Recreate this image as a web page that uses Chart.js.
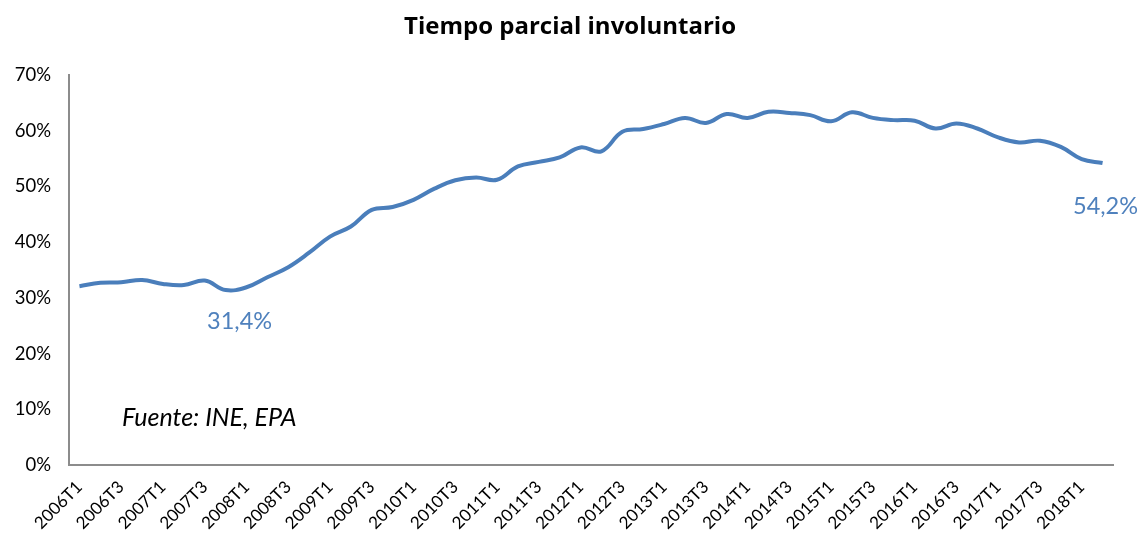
<!DOCTYPE html>
<html>
<head>
<meta charset="utf-8">
<script src="https://cdn.jsdelivr.net/npm/chart.js@4.4.1/dist/chart.umd.min.js"></script>
<style>
	html, body { margin: 0; padding: 0; background: #fff; }
	#wrap { width: 1140px; height: 535px; position: relative; }
</style>
</head>
<body>
<div id="wrap"><canvas id="chart"></canvas></div>
<script>
'use strict';

// Quarterly categories 2006T1 .. 2018T2
const years = [2006, 2007, 2008, 2009, 2010, 2011, 2012, 2013, 2014, 2015, 2016, 2017, 2018];
const quarters = ['T1', 'T2', 'T3', 'T4'];
const lastQuarter = '2018T2';

// Share of involuntary part-time (%)
const tiempoParcial = [
	32.1, 32.7, 32.8, 33.2, 32.5, 32.3, 33.1, 31.4, 31.9, 33.7,
	35.5, 38.1, 41.0, 42.8, 45.8, 46.3, 47.6, 49.6, 51.1, 51.6,
	51.2, 53.6, 54.4, 55.2, 57.0, 56.3, 59.8, 60.3, 61.2, 62.3,
	61.4, 63.0, 62.3, 63.4, 63.2, 62.8, 61.7, 63.3, 62.3, 61.9,
	61.8, 60.4, 61.3, 60.4, 58.8, 57.9, 58.2, 57.1, 54.9, 54.2
];

// Points that carry a value label
const labelled = [7, 49];

const yTicks = [0, 10, 20, 30, 40, 50, 60, 70];

let labels = [];
for (let i = 0; i < years.length; ++i) {
	for (let q = 0; q < quarters.length; ++q) {
		const lbl = years[i] + quarters[q];
		labels.push(lbl);
		if (lbl === lastQuarter) break;
	}
}

const blue = '#4a7ebb';
const axisGrey = '#8c8c8c';
const font = 'Lato, "Open Sans", sans-serif';
// label offsets from their point, in px
const labelShift = [[14, 31], [3, 43]];

const extras = {
	id: 'extras',
	afterDatasetsDraw(chart) {
		const ctx = chart.ctx;
		const meta = chart.getDatasetMeta(0);
		ctx.save();

		// title, centred on the whole canvas
		ctx.fillStyle = '#000';
		ctx.font = 'bold 24px "Open Sans", Lato, sans-serif';
		ctx.textAlign = 'center';
		ctx.textBaseline = 'middle';
		ctx.fillText('Tiempo parcial involuntario', chart.width / 2, 27);

		ctx.fillStyle = '#4f81bd';
		ctx.font = '23.5px ' + font;
		for (let i = 0; i < labelled.length; ++i) {
			const idx = labelled[i];
			const pt = meta.data[idx];
			const txt = tiempoParcial[idx].toFixed(1).replace('.', ',') + '%';
			ctx.fillText(txt, pt.x + labelShift[i][0], pt.y + labelShift[i][1]);
		}

		const area = chart.chartArea;
		ctx.fillStyle = '#000';
		ctx.font = 'italic 25px ' + font;
		ctx.textAlign = 'left';
		ctx.fillText('Fuente: INE, EPA', area.left + 53, area.bottom - 47);
		ctx.restore();
	}
};

const chart = new Chart(document.getElementById('chart'), {
	type: 'line',
	data: {
		labels: labels,
		datasets: [
			{
				data: tiempoParcial,
				borderColor: blue,
				borderWidth: 4,
				pointRadius: 0,
				tension: 0.4,
				fill: false
			}
		]
	},
	options: {
		responsive: true,
		maintainAspectRatio: false,
		animation: false,
		layout: { padding: { top: 75, left: 0, right: 27, bottom: 0 } },
		plugins: {
			legend: { display: false },
			tooltip: { enabled: false },
			title: { display: false }
		},
		scales: {
			x: {
				offset: true,
				grid: { display: false, drawTicks: false },
				border: { display: true, color: axisGrey, width: 2 },
				ticks: {
					autoSkip: false,
					maxRotation: 45,
					minRotation: 45,
					padding: 12,
					color: '#000',
					font: { family: font, size: 17 },
					callback: function (v, i) { return i % 2 === 0 ? labels[i] : ''; }
				},
				afterFit: function (scale) { scale.height = 70; }
			},
			y: {
				min: 0,
				max: 70,
				grid: { display: false, drawTicks: false },
				border: { display: true, color: axisGrey, width: 2 },
				afterBuildTicks: function (scale) {
					scale.ticks = yTicks.map(function (v) { return { value: v }; });
				},
				ticks: {
					padding: 18,
					color: '#000',
					font: { family: font, size: 18.5 },
					callback: function (v) { return v + '%'; }
				},
				afterFit: function (scale) { scale.width = 69; }
			}
		}
	},
	plugins: [extras]
});
</script>
</body>
</html>
